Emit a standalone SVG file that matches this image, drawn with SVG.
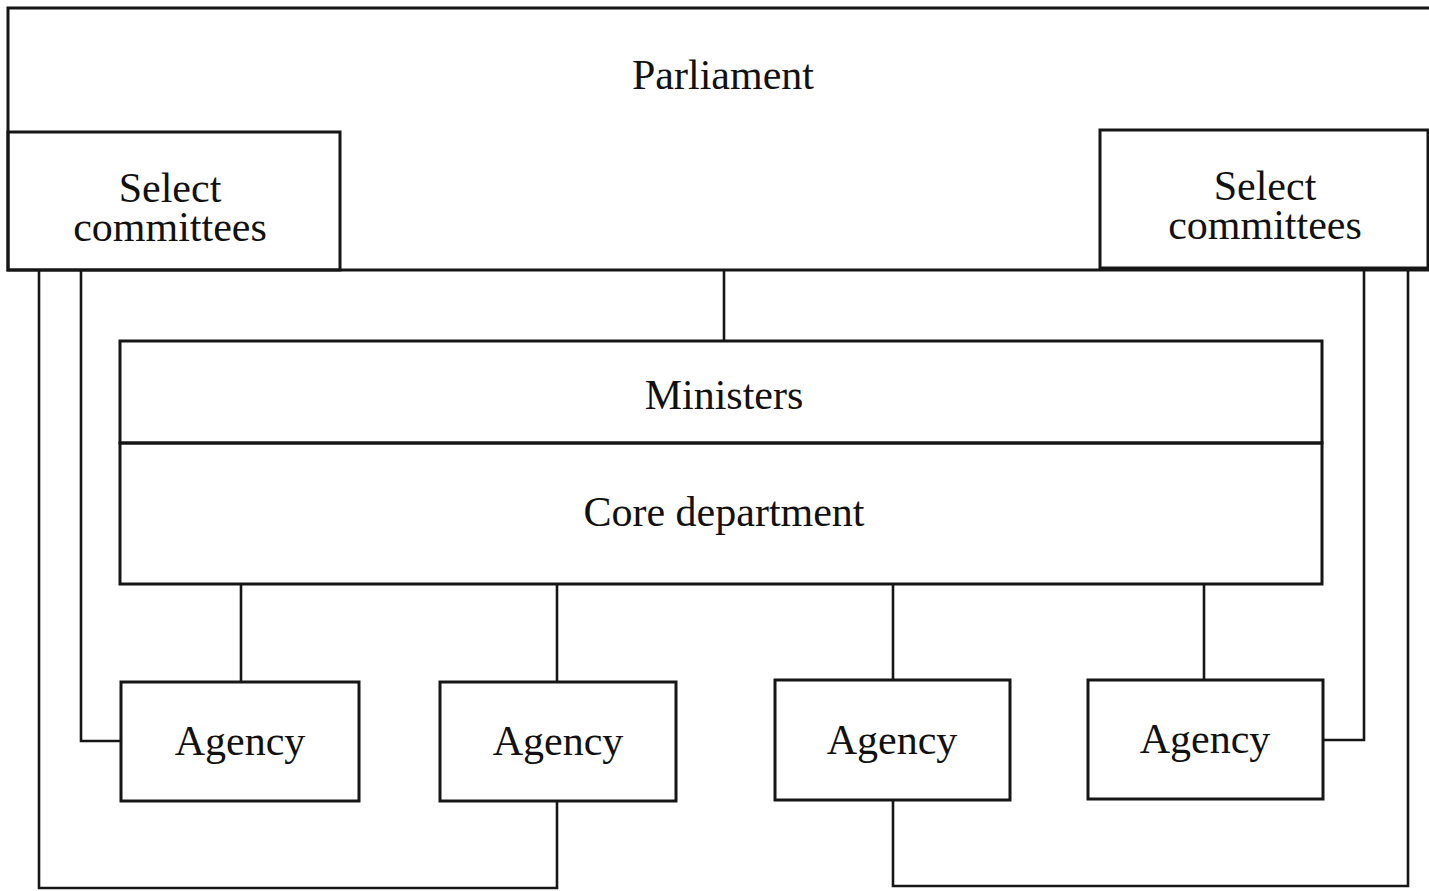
<svg xmlns="http://www.w3.org/2000/svg" width="1429" height="891" viewBox="0 0 1429 891">
<style>
.box{fill:none;stroke:#161616;stroke-width:3}
.ln{fill:none;stroke:#161616;stroke-width:2.6}
text{font-family:"Liberation Serif","Times New Roman",serif;font-size:42px;fill:#111;text-anchor:middle}
</style>
<rect width="1429" height="891" fill="#fff"/>
<g id="parliament">
<path class="box" d="M1429,8 H8 V270 H1429"/>
<text x="723" y="89">Parliament</text>
</g>
<g id="select-left">
<rect class="box" x="8" y="132" width="332" height="138"/>
<text x="170" y="202">Select</text>
<text x="170" y="241">committees</text>
</g>
<g id="select-right">
<rect class="box" x="1100" y="130" width="328" height="138"/>
<text x="1265" y="200">Select</text>
<text x="1265" y="239">committees</text>
</g>
<g id="ministers">
<rect class="box" x="120" y="341" width="1202" height="102"/>
<text x="724" y="409">Ministers</text>
</g>
<g id="core-department">
<rect class="box" x="120" y="443" width="1202" height="141"/>
<text x="724" y="526">Core department</text>
</g>
<g id="agency1">
<rect class="box" x="121" y="682" width="238" height="119"/>
<text x="240" y="755">Agency</text>
</g>
<g id="agency2">
<rect class="box" x="440" y="682" width="236" height="119"/>
<text x="558" y="755">Agency</text>
</g>
<g id="agency3">
<rect class="box" x="775" y="680" width="235" height="120"/>
<text x="892" y="754">Agency</text>
</g>
<g id="agency4">
<rect class="box" x="1088" y="680" width="235" height="119"/>
<text x="1205" y="753">Agency</text>
</g>
<g id="connectors">
<path class="ln" d="M724,270 V341"/>
<path class="ln" d="M241,584 V682"/>
<path class="ln" d="M557,584 V682"/>
<path class="ln" d="M893,584 V680"/>
<path class="ln" d="M1204,584 V680"/>
<path class="ln" d="M81,270 V741 H121"/>
<path class="ln" d="M39,270 V888 H557 V801"/>
<path class="ln" d="M1364,268 V740 H1323"/>
<path class="ln" d="M1408,268 V886 H893 V800"/>
</g>
</svg>
